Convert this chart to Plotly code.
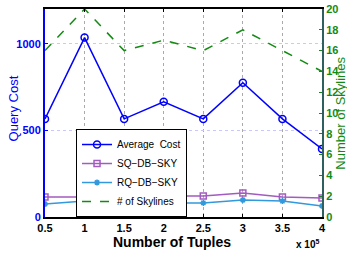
import plotly.graph_objects as go

tuples = [0.5, 1, 1.5, 2, 2.5, 3, 3.5, 4]
avg_cost = [566, 1035, 566, 665, 566, 775, 566, 393]
sq_db_sky = [116, 116, 116, 121, 121, 139, 116, 110]
rq_db_sky = [75, 92, 75, 81, 81, 98, 92, 64]
skylines = [16, 20, 16, 17, 16, 18, 16, 14]

x_ticks = [0.5, 1, 1.5, 2, 2.5, 3, 3.5, 4]
x_ticklabels = ["0.5", "1", "1.5", "2", "2.5", "3", "3.5", "4"]
left_ticks = [0, 500, 1000]
right_ticks = list(range(0, 21, 2))

BLUE = "#0000ff"
PURPLE = "#a25bbf"
LBLUE = "#3399dd"
GREEN = "#138a13"
FONT = "Liberation Sans, Arial, sans-serif"

fig = go.Figure()
fig.add_trace(go.Scatter(x=tuples, y=avg_cost, name="Average  Cost", mode="lines+markers",
                         line=dict(color=BLUE, width=1.5),
                         marker=dict(symbol="circle-open", size=7, color=BLUE, line=dict(width=1.5))))
fig.add_trace(go.Scatter(x=tuples, y=sq_db_sky, name="SQ\u2212DB\u2212SKY", mode="lines+markers",
                         line=dict(color=PURPLE, width=1.5),
                         marker=dict(symbol="square-open", size=6, color=PURPLE, line=dict(width=1.5))))
fig.add_trace(go.Scatter(x=tuples, y=rq_db_sky, name="RQ\u2212DB\u2212SKY", mode="lines+markers",
                         line=dict(color=LBLUE, width=1.5),
                         marker=dict(symbol="asterisk-open", size=5, color=LBLUE, line=dict(width=1.5, color=LBLUE))))
fig.add_trace(go.Scatter(x=tuples, y=skylines, name="# of Skylines", mode="lines", yaxis="y2",
                         line=dict(color=GREEN, width=1.5, dash="dash")))

fig.update_layout(
    width=347, height=259,
    margin=dict(l=45, r=25, t=9, b=42),
    paper_bgcolor="white", plot_bgcolor="white",
    font=dict(family=FONT, size=11, color="black"),
    showlegend=True,
    legend=dict(x=0.112, y=0.423, xanchor="left", yanchor="top",
                bgcolor="white", bordercolor="black", borderwidth=1,
                font=dict(family=FONT, size=10, color="black"),
                itemwidth=30, tracegroupgap=0),
    xaxis=dict(range=[0.5, 4], tickvals=x_ticks, ticktext=x_ticklabels,
               showline=True, linecolor="black", linewidth=1.5, mirror="ticks",
               ticks="inside", ticklen=3, tickcolor="black",
               showgrid=True, gridcolor="#aaaaaa", griddash="dot", gridwidth=1,
               zeroline=False, automargin=False,
               tickfont=dict(family=FONT, size=11, color="black", weight="bold")),
    yaxis=dict(range=[0, 1200], tickvals=left_ticks,
               showline=True, linecolor=BLUE, linewidth=2,
               ticks="inside", ticklen=3, tickcolor=BLUE,
               showgrid=True, gridcolor="#c8c8ff", griddash="dot", gridwidth=1,
               zeroline=False, automargin=False,
               tickfont=dict(family=FONT, size=11, color=BLUE, weight="bold")),
    yaxis2=dict(range=[0, 20], tickvals=right_ticks, overlaying="y", side="right",
                showline=True, linecolor="#2e6060", linewidth=2,
                ticks="inside", ticklen=3, tickcolor=GREEN,
                showgrid=False, zeroline=False, automargin=False,
                tickfont=dict(family=FONT, size=11, color=GREEN, weight="bold")),
    annotations=[
        dict(text="Query Cost", xref="paper", yref="paper", x=-0.079, y=0.52,
             textangle=-90, showarrow=False, xanchor="right", yanchor="middle",
             font=dict(family=FONT, size=13, color=BLUE)),
        dict(text="Number of Skylines", xref="paper", yref="paper", x=1.033, y=0.5,
             textangle=-90, showarrow=False, xanchor="left", yanchor="middle",
             borderpad=0,
             font=dict(family=FONT, size=13, color=GREEN)),
        dict(text="<b>Number of Tuples</b>", xref="paper", yref="paper", x=0.458, y=-0.072,
             showarrow=False, xanchor="center", yanchor="top",
             font=dict(family=FONT, size=14, color="black")),
        dict(text="<b>x 10<sup>5</sup></b>", xref="paper", yref="paper", x=0.995, y=-0.09,
             showarrow=False, xanchor="right", yanchor="top",
             font=dict(family=FONT, size=10, color="black")),
    ],
)

fig.write_html("out.html", config={"displayModeBar": False},
               post_script="document.body.style.margin='0';document.body.style.padding='0';")
